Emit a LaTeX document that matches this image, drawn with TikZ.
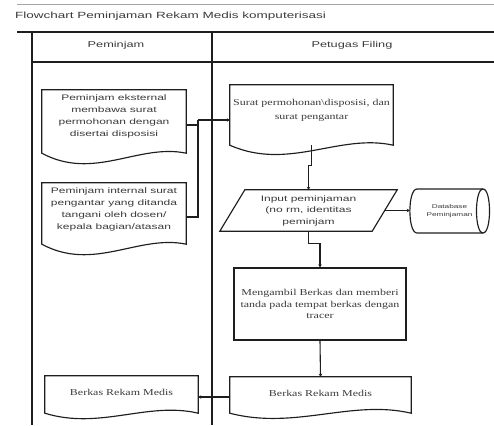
\documentclass[tikz,border=0pt]{standalone}
\usepackage{fontspec}
\setmainfont{Liberation Sans}
\newfontfamily\sfw[FakeStretch=1.5]{Liberation Sans}
\newfontfamily\rmw[FakeStretch=1.33]{Liberation Serif}
\usetikzlibrary{calc,arrows.meta}
\definecolor{ink}{HTML}{1E1E1E}
\definecolor{txt}{HTML}{3A3A3A}
\newcommand\docwave[4]{% name, extra, down, up
  \draw[shapeline] let \p1=(#1.south west), \p2=(#1.north east), \n1={\x2-\x1} in
  (\x1,\y2) -- (\x2,\y2) -- (\x2,\y1-#2)
  .. controls (\x2-0.33*\n1,\y1-#2+#4) and (\x1+0.36*\n1,\y1-#2-#3) .. (\x1,\y1-#2) -- cycle;}
\tikzset{
  shapeline/.style={draw=ink, line width=1.15pt},
  lane/.style={draw=ink, line width=1.3pt},
  box/.style={inner sep=0pt, align=center, text=txt},
  sans/.style={font=\fontsize{8}{12}\sfw},
  serif/.style={font=\fontsize{9}{12}\rmw},
  flow/.style={draw=ink, line width=1.1pt},
  tip/.style={-{Stealth[length=3pt,width=3.5pt]}}
}
\begin{document}
\begin{tikzpicture}[x=1pt,y=-1pt]
\useasboundingbox (0,0) rectangle (494,425);
% top strip
\draw[draw=gray!70, line width=1pt] (17,5) -- (494,5);
\node[anchor=west, text=txt, font=\fontsize{9}{11}\sfw, inner sep=0pt] (title) at (15,16) {Flowchart Peminjaman Rekam Medis komputerisasi};
% lanes
\draw[lane, line width=1.6pt] (17,32) -- (494,32);
\draw[lane] (32,32) -- (32,425);
\draw[lane] (212,32) -- (212,425);
\draw[lane] (32,62) -- (494,62);
\node[text=txt, font=\fontsize{8.5}{11}\sfw, inner sep=0pt] (h1) at (116,45) {Peminjam};
\node[text=txt, font=\fontsize{8.5}{11}\sfw, inner sep=0pt] (h2) at (352,45) {Petugas Filing};
% documents
\node[box, sans, minimum width=144pt, minimum height=53pt] (d1) at (114,116.5)
  {Peminjam eksternal\\membawa surat\\permohonan dengan\\disertai disposisi};
\docwave{d1}{10pt}{28pt}{10pt}
\node[box, sans, minimum width=144pt, minimum height=52pt] (d2) at (114,209)
  {Peminjam internal surat\\pengantar yang ditanda\\tangani oleh dosen/\\kepala bagian/atasan};
\docwave{d2}{9pt}{28pt}{10pt}
\node[box, font=\fontsize{9}{14}\rmw, minimum width=163pt, minimum height=50pt] (surat) at (311.5,110)
  {Surat permohonan\textbackslash disposisi, dan\\surat pengantar};
\docwave{surat}{10pt}{26pt}{12pt}
% input parallelogram
\node[box, font=\fontsize{8}{11.5}\sfw, minimum width=177pt, minimum height=41pt] (inp) at (308.5,210.5)
  {Input peminjaman\\(no rm, identitas\\peminjam};
\draw[shapeline] ([xshift=25pt]inp.north west) -- (inp.north east) -- ([xshift=-25pt]inp.south east) -- (inp.south west) -- cycle;
% database cylinder
\node[box, font=\fontsize{5.5}{8}\sfw, minimum width=79pt, minimum height=44pt] (db) at (449.5,211)
  {Database\\Peminjaman};
\draw[shapeline] (417,189) -- (483,189) .. controls (491.7,189) and (491.7,233) .. (483,233)
  -- (417,233) .. controls (407.5,233) and (407.5,189) .. (417,189);
\draw[shapeline] (483,189) .. controls (474.3,189) and (474.3,233) .. (483,233);
% process
\node[box, shapeline, font=\fontsize{9}{11.5}\rmw, minimum width=172pt, minimum height=72pt] (proc) at (320,304)
  {Mengambil Berkas dan memberi\\tanda pada tempat berkas dengan\\tracer};
% berkas documents
\node[box, serif, minimum width=181pt, minimum height=32pt] (bR) at (320.5,393) {Berkas Rekam Medis};
\docwave{bR}{4pt}{17pt}{14pt}
\node[box, serif, minimum width=153pt, minimum height=32pt] (bL) at (121.5,392) {Berkas Rekam Medis};
\docwave{bL}{5pt}{17pt}{12pt}
% connectors
\coordinate (j1) at (198,120);
\draw[flow] ([yshift=-8.5pt]d1.east) -| (j1);
\draw[flow] ([yshift=-8pt]d2.east) -| (j1);
\draw[flow, tip] (j1) -- (j1 -| surat.west);
\draw[flow, tip] ([yshift=-10pt]surat.south) -- ++(0,20) -| (inp.north);
\draw[flow, tip] ([xshift=-12.5pt]inp.east) -- (inp.east -| db.west);
\draw[flow, tip] (inp.south) -- ++(0,12) -| (proc.north);
\draw[flow, tip] (proc.south) -- (bR.north);
\draw[flow, tip] ([yshift=-4pt]bR.west) -- ([yshift=-4pt]bR.west -| bL.east);
\end{tikzpicture}
\end{document}
